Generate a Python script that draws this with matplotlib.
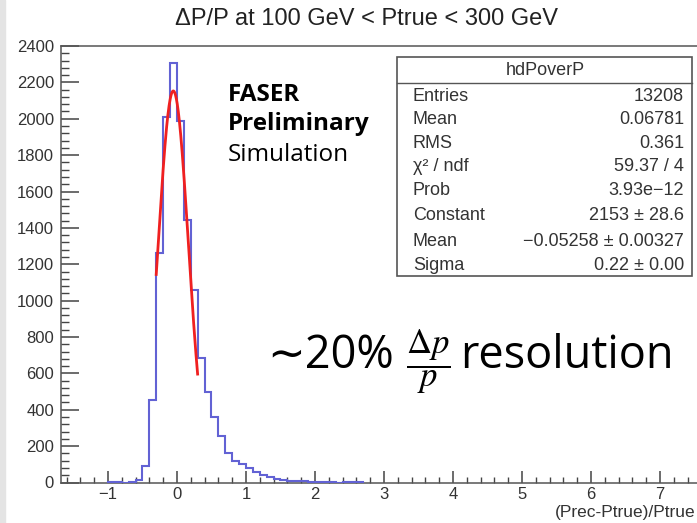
import numpy as np
import matplotlib
matplotlib.use("Agg")
import matplotlib.pyplot as plt
from matplotlib.patches import Rectangle
from matplotlib.lines import Line2D
from matplotlib.ticker import MultipleLocator

# histogram of (Prec-Ptrue)/Ptrue, 0.1 wide bins starting at -1.0
bin_start = -1.0
bin_width = 0.1
counts = [2, 2, 0, 3, 15, 88, 455, 1263, 2010, 2305,
          1988, 1446, 1061, 684, 500, 360, 255, 162, 118, 100,
          78, 57, 42, 30, 20, 14, 10, 8, 6, 5,
          4, 3, 3, 0, 2, 2, 2]

# gaussian fit result
fit_const = 2153
fit_mean = -0.05258
fit_sigma = 0.22
fit_range = (-0.3, 0.3)

stat_names = ["Entries", "Mean", "RMS", "\u03c7\u00b2 / ndf", "Prob",
              "Constant", "Mean", "Sigma"]
stat_values = ["13208", "0.06781", "0.361", "59.37 / 4", "3.93e\u221212",
               "2153 \u00b1 28.6", "\u22120.05258 \u00b1 0.00327", "0.22 \u00b1 0.00"]

edges = bin_start + bin_width * np.arange(len(counts) + 1)

W, H = 697, 523
fig = plt.figure(figsize=(W / 100, H / 100), dpi=100)
fig.patch.set_facecolor("white")
fig.patches.append(Rectangle((0, 0), 5 / W, 1, transform=fig.transFigure,
                             color="#e4e4e4", zorder=0))

def fx(px):
    return px / W

def fy(py):
    return 1 - py / H

# frame runs past the right edge of the canvas
x0, x1 = -1.68, 7.8
ax_left, ax_right = 61, 61 + (x1 - x0) * 69
ax = fig.add_axes([fx(ax_left), fy(482.5), fx(ax_right - ax_left), (482.5 - 46) / H])
ax.set_xlim(x0, x1)
ax.set_ylim(0, 2400)

ax.stairs(counts, edges, color="#6262d4", lw=1.5, zorder=3)

xf = np.linspace(fit_range[0], fit_range[1], 200)
yf = fit_const * np.exp(-0.5 * ((xf - fit_mean) / fit_sigma) ** 2)
ax.plot(xf, yf, color="#f02020", lw=2, zorder=4)

ax.xaxis.set_major_locator(MultipleLocator(1))
ax.xaxis.set_minor_locator(MultipleLocator(0.2))
ax.yaxis.set_major_locator(MultipleLocator(200))
ax.yaxis.set_minor_locator(MultipleLocator(40))
ax.tick_params(axis="x", which="major", direction="in", length=8.5, width=1.1,
               color="#444444", pad=3, labelsize=12, labelcolor="#333333")
ax.tick_params(axis="x", which="minor", direction="in", length=4.3, width=1.0,
               color="#444444")
ax.tick_params(axis="y", which="major", direction="in", length=13, width=1.1,
               color="#444444", pad=5, labelsize=12, labelcolor="#333333")
ax.tick_params(axis="y", which="minor", direction="in", length=6, width=1.0,
               color="#444444")
for lab in ax.get_xticklabels() + ax.get_yticklabels():
    lab.set_family("Liberation Sans")
ax.xaxis.set_major_formatter(plt.FuncFormatter(
    lambda v, p: ("\u2212%d" % -v) if v < 0 else "%d" % v))
for s in ax.spines.values():
    s.set_color("#555555")
    s.set_linewidth(1.1)

fig.text(fx(696), fy(512), "(Prec-Ptrue)/Ptrue", ha="right", va="center",
         family="Liberation Sans", size=12.5, color="#333333")
fig.text(fx(367), fy(19), "\u0394P/P at 100 GeV < Ptrue < 300 GeV", ha="center",
         va="center", family="Liberation Sans", size=17, color="#222222")

# stats box
bx0, bx1, by0, by1, bsep = 397, 692, 57, 276, 83
fig.patches.append(Rectangle((fx(bx0), fy(by1)), fx(bx1 - bx0), (by1 - by0) / H,
                             transform=fig.transFigure, fc="white", ec="#555555",
                             lw=1.2, zorder=5))
fig.lines.append(Line2D([fx(bx0), fx(bx1)], [fy(bsep), fy(bsep)],
                        transform=fig.transFigure, color="#555555", lw=1.0, zorder=6))
fig.text(fx(545), fy(75), "hdPoverP", ha="center", va="baseline",
         family="Liberation Sans", size=13, color="#333333", zorder=7)
row_y = [101, 124, 148, 171, 195, 220, 246, 270]
for name, val, yy in zip(stat_names, stat_values, row_y):
    fig.text(fx(413), fy(yy), name, ha="left", va="baseline",
             family="Liberation Sans", size=13, color="#333333", zorder=7)
    fig.text(fx(684), fy(yy), val, ha="right", va="baseline",
             family="Liberation Sans", size=13, color="#333333", zorder=7)

# labels
fig.text(fx(228), fy(95), "FASER", ha="left", va="center",
         family="Open Sans", weight="bold", size=17.5)
fig.text(fx(228), fy(124), "Preliminary", ha="left", va="center",
         family="Open Sans", weight="bold", size=17.5)
fig.text(fx(228), fy(155), "Simulation", ha="left", va="center",
         family="Open Sans", size=17.5)

fig.text(fx(267), fy(356), "\u223c20%", ha="left", va="center",
         family=["Open Sans", "DejaVu Sans"], size=32.5)
fig.text(fx(428), fy(362), r"$\dfrac{\Delta p}{p}$", ha="center", va="center",
         size=25, math_fontfamily="stix")
fig.text(fx(460), fy(356), "resolution", ha="left", va="center",
         family="Open Sans", size=32.5)

fig.savefig("out.png", dpi=100)
